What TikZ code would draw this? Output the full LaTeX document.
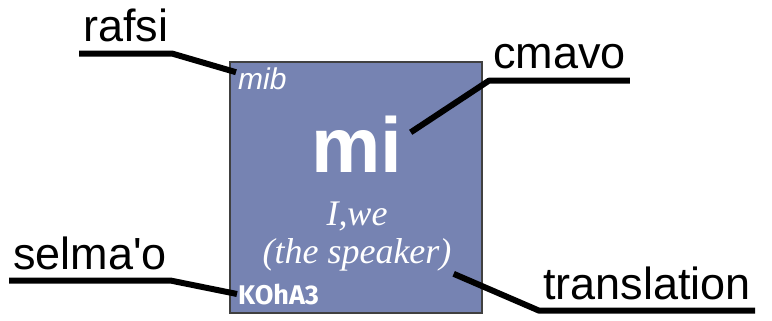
\documentclass[tikz,border=0pt]{standalone}
\usepackage{fontspec}
\setmainfont{Liberation Sans}
\newfontfamily\glossfont{Liberation Serif}
\newfontfamily\classfont{Fira Sans}
\usetikzlibrary{positioning}
\usepackage{xcolor}
\definecolor{cardblue}{RGB}{118,131,178}

\begin{document}
\begin{tikzpicture}
[x=1pt, y=-1pt,
% The card style is used for the blue word card
card/.style={rectangle, draw=black!75, line width=1.2pt, fill=cardblue, minimum width=252pt, minimum height=251pt},
% The part style is used to draw the names of the parts
part/.style={anchor=base west, inner xsep=4pt, inner ysep=11pt, font=\fontsize{45}{50}\selectfont},
% The leader style is used to draw the thick lines
leader/.style={line width=6pt, line join=bevel}
]
\useasboundingbox (0,0) rectangle (772,321);
% Draw card
\node[card] (card) at (356,187.5) {};
\node[anchor=base west, inner sep=2pt, text=white, font=\itshape\fontsize{30}{31}\selectfont] (mib) at (236,90) {mib};
\node[anchor=base, inner sep=8pt, text=white, font=\bfseries\fontsize{78}{80}\selectfont] (mi) at (357,172) {mi};
\node[align=center, inner sep=2pt, text=white, font=\glossfont\itshape\fontsize{36}{38}\selectfont] (gloss) at (357,237) {I,we\\(the speaker)};
\node[anchor=base west, inner sep=1pt, text=white, font=\classfont\bfseries\fontsize{27}{28}\selectfont] (koha) at (237,304) {KOhA3};
% Draw part names
\node[part] (rafsi) at (79,42) {rafsi};
\node[part] (cmavo) at (489,69) {cmavo};
\node[part] (selmao) at (9,269) {selma\textquotesingle o};
\node[part] (translation) at (539,299) {translation};
% Draw leaders
\draw[leader] (rafsi.south west) -- (rafsi.south east) -- (mib.165);
\draw[leader] (cmavo.south east) -- (cmavo.south west) -- (mi.12);
\draw[leader] (selmao.south west) -- (selmao.south east) -- (koha.west);
\draw[leader] (translation.south east) -- (translation.south west) -- (gloss.south east);
\end{tikzpicture}
\end{document}
